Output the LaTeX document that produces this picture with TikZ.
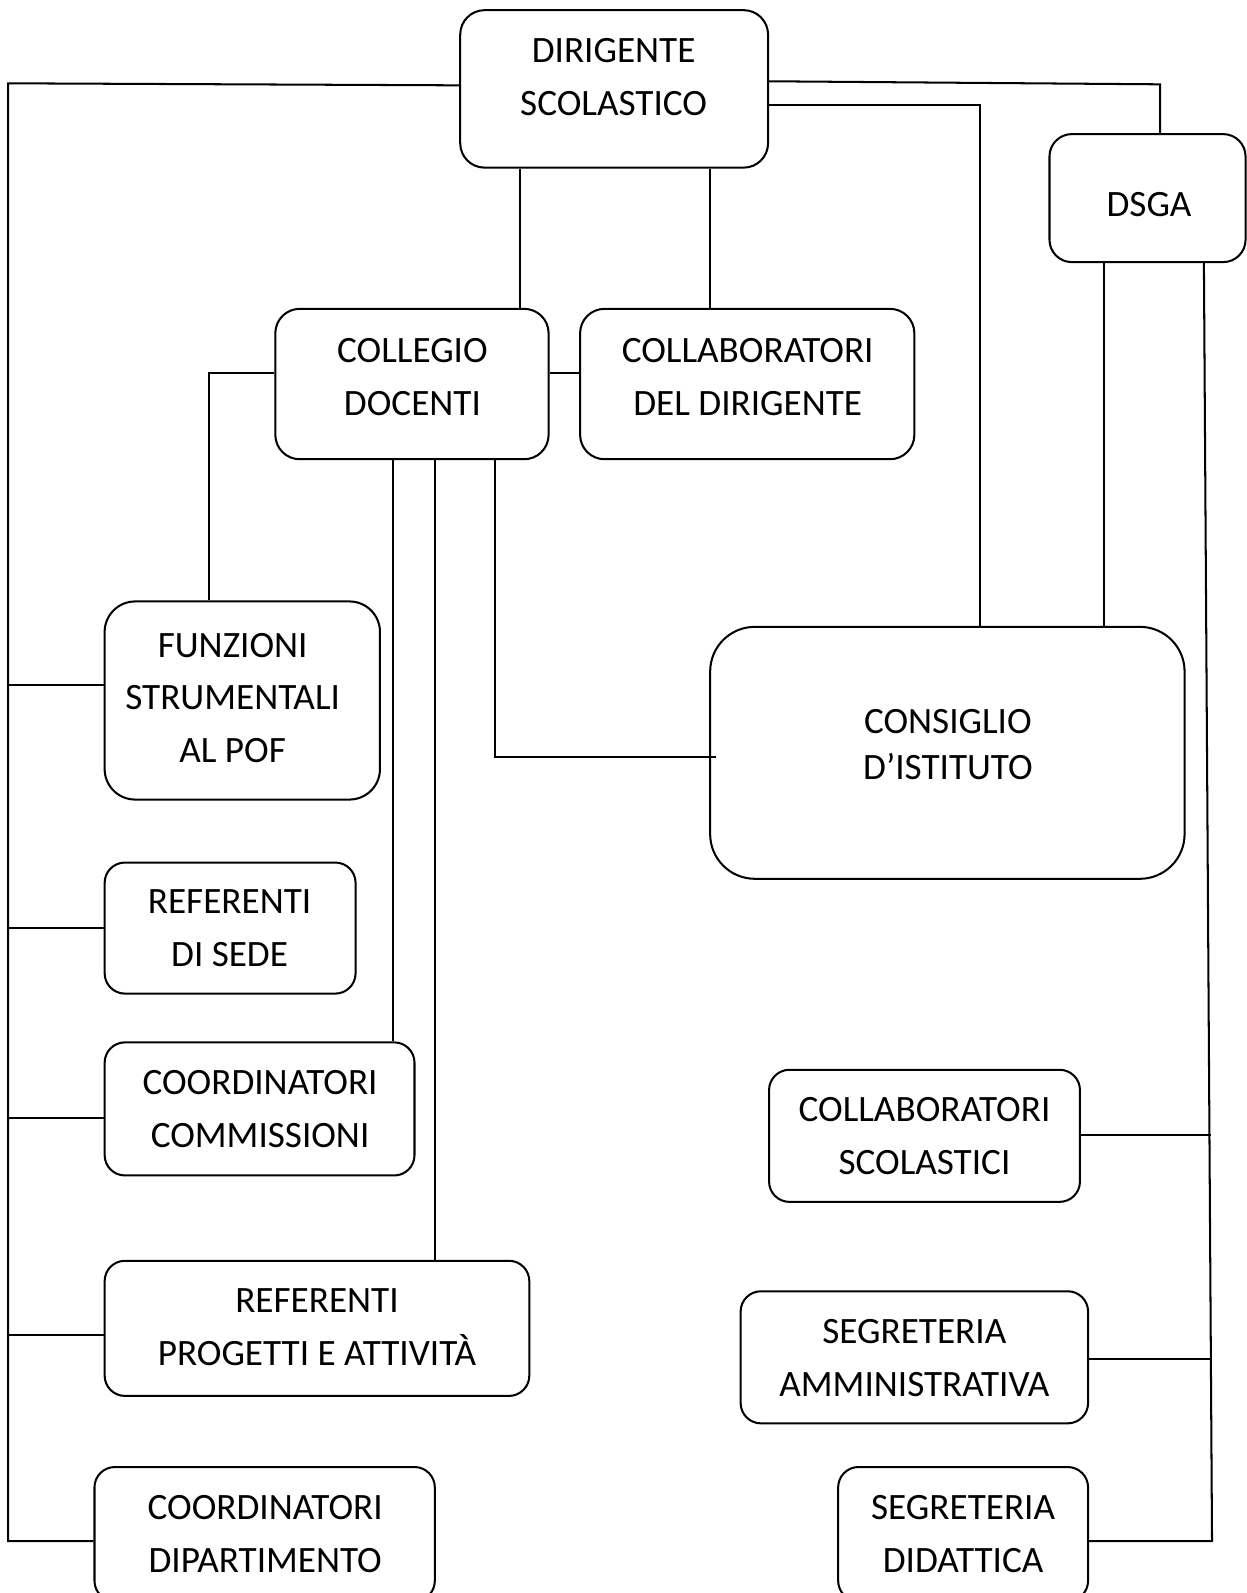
\documentclass[tikz,border=0pt]{standalone}
\usepackage{fontspec}
\setmainfont{Carlito}
\begin{document}
\begin{tikzpicture}[x=0.5pt,y=-0.5pt,
  box/.style={draw,line width=1pt,rounded corners=12pt,inner sep=0pt},
  lbl/.style={align=center,inner sep=0pt,font=\fontsize{18.3}{26}\selectfont},
  conn/.style={line width=1pt}]
\useasboundingbox (0,0) rectangle (1227,1568);
\fill[white] (0,0) rectangle (1227,1568);
\clip (0,0) rectangle (1227,1568);
% boxes
\node[box,minimum width=151.5pt,minimum height=77.5pt] (dir) at (604.5,87.5) {};
\node[box,rounded corners=11pt,minimum width=96.5pt,minimum height=63pt] (dsga) at (1129.5,195) {};
\node[box,minimum width=134.5pt,minimum height=74pt] (col) at (405.5,378) {};
\node[box,minimum width=164.5pt,minimum height=74pt] (cdd) at (735.5,378) {};
\node[box,rounded corners=15pt,minimum width=135.5pt,minimum height=97.5pt] (fun) at (238.5,689.5) {};
\node[box,rounded corners=22pt,minimum width=233.5pt,minimum height=124pt] (cons) at (932.5,741) {};
\node[box,rounded corners=10pt,minimum width=123.5pt,minimum height=64.5pt] (rds) at (226.5,913.5) {};
\node[box,rounded corners=10pt,minimum width=152.5pt,minimum height=65.5pt] (ccom) at (255.5,1091.5) {};
\node[box,rounded corners=10pt,minimum width=153pt,minimum height=65pt] (csc) at (910,1118) {};
\node[box,rounded corners=10pt,minimum width=209pt,minimum height=66.5pt] (rpa) at (312,1307.5) {};
\node[box,rounded corners=10pt,minimum width=171pt,minimum height=65pt] (sam) at (900,1336) {};
\node[box,rounded corners=10pt,minimum width=167.5pt,minimum height=66pt] (cdip) at (260.5,1510) {};
\node[box,rounded corners=10pt,minimum width=123pt,minimum height=66pt] (sdid) at (948,1510) {};
% labels
\node[lbl] (tdir) at (604,76) {DIRIGENTE\\SCOLASTICO};
\node[lbl] (tdsga) at (1131,201) {DSGA};
\node[lbl] (tcol) at (406,371) {COLLEGIO\\DOCENTI};
\node[lbl] (tcdd) at (736,371) {COLLABORATORI\\DEL DIRIGENTE};
\node[lbl] (tfun) at (229,687) {FUNZIONI\\STRUMENTALI\\AL POF};
\node[lbl,font=\fontsize{18.3}{22.5}\selectfont] (tcons) at (933,733) {CONSIGLIO\\D’ISTITUTO};
\node[lbl] (trds) at (226,914) {REFERENTI\\DI SEDE};
\node[lbl] (tccom) at (256,1092) {COORDINATORI\\COMMISSIONI};
\node[lbl] (tcsc) at (910,1118) {COLLABORATORI\\SCOLASTICI};
\node[lbl] (trpa) at (312,1306) {REFERENTI\\PROGETTI E ATTIVITÀ};
\node[lbl] (tsam) at (900,1337) {SEGRETERIA\\AMMINISTRATIVA};
\node[lbl] (tcdip) at (261,1510) {COORDINATORI\\DIPARTIMENTO};
\node[lbl] (tsdid) at (948,1510) {SEGRETERIA\\DIDATTICA};
% connectors
\coordinate (lt) at (8,82);
\coordinate (lb) at (8,1517);
\draw[conn] (dir.west |- 0,84) -- (lt) -- (lb) -- (cdip.west |- lb);
\draw[conn] (8,674) -- (fun.west |- 0,674);
\draw[conn] (8,913) -- (rds.west |- 0,913);
\draw[conn] (8,1100) -- (ccom.west |- 0,1100);
\draw[conn] (8,1314) -- (rpa.west |- 0,1314);
\draw[conn] (dir.south -| 512,0) -- (col.north -| 512,0);
\draw[conn] (dir.south -| 699,0) -- (cdd.north -| 699,0);
\draw[conn] (col.east |- 0,367) -- (cdd.west |- 0,367);
\draw[conn] (col.west |- 0,367) -- (206,367) -- (fun.north -| 206,0);
\draw[conn] (col.south -| 387,0) -- (ccom.north -| 387,0);
\draw[conn] (col.south -| 428,0) -- (rpa.north -| 428,0);
\draw[conn] (col.south -| 487,0) -- (487,745) -- ([xshift=3.5pt]cons.west |- 0,745);
\draw[conn] (dir.east |- 0,103) -- (965,103) -- (cons.north -| 965,0);
\draw[conn] (dir.east |- 0,80) -- (1142,83) -- (dsga.north -| 1142,0);
\draw[conn] (dsga.south -| 1087,0) -- (cons.north -| 1087,0);
\coordinate (rb) at (1193,1517);
\draw[conn] (dsga.south -| 1185,0) -- (rb) -- (sdid.east |- rb);
\draw[conn] (csc.east |- 0,1117) -- (1192,1117);
\draw[conn] (sam.east |- 0,1338) -- (1192,1338);
\end{tikzpicture}
\end{document}
